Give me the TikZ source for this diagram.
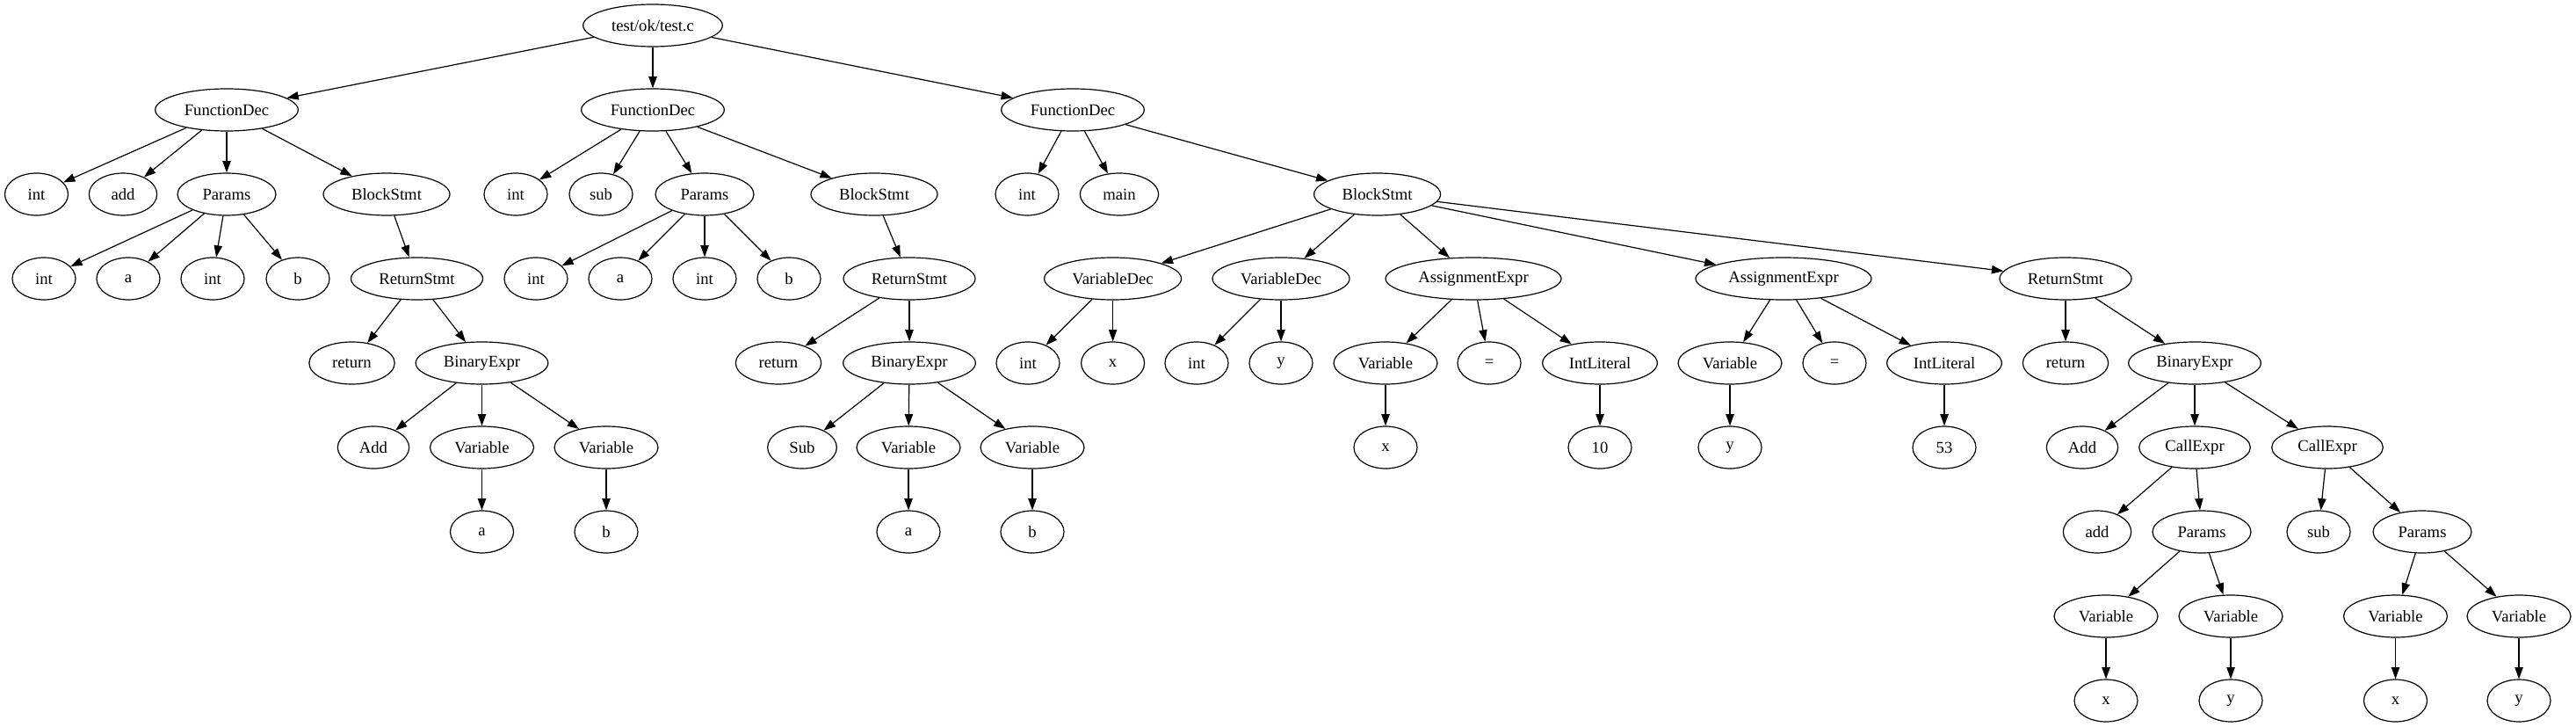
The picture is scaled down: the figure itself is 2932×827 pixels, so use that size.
\documentclass[tikz,border=0pt]{standalone}
\usepackage{fontspec}
\setmainfont{Liberation Serif}
\usetikzlibrary{shapes.geometric,arrows.meta}
\tikzset{
  nd/.style={draw, ellipse, line width=0.9pt, minimum height=36pt, minimum width=#1, inner sep=0pt, font=\fontsize{14}{16}\selectfont},
  nd/.default=54pt,
  ed/.style={-{Triangle[length=10pt,width=7pt]}, line width=0.9pt}
}
\begin{document}
\begin{tikzpicture}[x=0.75pt,y=-0.75pt]
\useasboundingbox (0,0) rectangle (2932,827);
% level 0
\node[nd=119pt] (r) at (743,29) {test/ok/test.c};
% level 1
\node[nd=122pt] (f1) at (258,125) {FunctionDec};
\node[nd=122pt] (f2) at (743,125) {FunctionDec};
\node[nd=122pt] (f3) at (1221,125) {FunctionDec};
% level 2
\node[nd] (f1i) at (41.5,221) {int};
\node[nd=58pt] (f1n) at (140,221) {add};
\node[nd=84pt] (f1p) at (258,221) {Params};
\node[nd=108pt] (f1b) at (440,221) {BlockStmt};
\node[nd] (f2i) at (587,221) {int};
\node[nd] (f2n) at (684,221) {sub};
\node[nd=84pt] (f2p) at (802,221) {Params};
\node[nd=108pt] (f2b) at (995,221) {BlockStmt};
\node[nd] (f3i) at (1169,221) {int};
\node[nd=67pt] (f3n) at (1274,221) {main};
\node[nd=108pt] (f3b) at (1567.6,221) {BlockStmt};
% level 3
\node[nd] (f1p1) at (50,317) {int};
\node[nd] (f1p2) at (146,317) {a};
\node[nd] (f1p3) at (242,317) {int};
\node[nd] (f1p4) at (339,317) {b};
\node[nd=112.5pt] (f1r) at (474.5,317) {ReturnStmt};
\node[nd] (f2p1) at (610,317) {int};
\node[nd] (f2p2) at (706,317) {a};
\node[nd] (f2p3) at (802,317) {int};
\node[nd] (f2p4) at (898,317) {b};
\node[nd=112.5pt] (f2r) at (1035,317) {ReturnStmt};
\node[nd=117pt] (vd1) at (1266.6,317) {VariableDec};
\node[nd=117pt] (vd2) at (1458,317) {VariableDec};
\node[nd=150pt] (as1) at (1677,317) {AssignmentExpr};
\node[nd=150pt] (as2) at (2030,317) {AssignmentExpr};
\node[nd=112.5pt] (f3r) at (2351,317) {ReturnStmt};
% level 4
\node[nd=73pt] (f1rr) at (400.5,413) {return};
\node[nd=113pt] (f1be) at (548.5,413) {BinaryExpr};
\node[nd=73pt] (f2rr) at (886,413) {return};
\node[nd=113pt] (f2be) at (1035,413) {BinaryExpr};
\node[nd] (vd1t) at (1170,413) {int};
\node[nd] (vd1n) at (1266.6,413) {x};
\node[nd] (vd2t) at (1362,413) {int};
\node[nd] (vd2n) at (1458,413) {y};
\node[nd=88.5pt] (as1v) at (1577,413) {Variable};
\node[nd] (as1e) at (1695,413) {=};
\node[nd=98pt] (as1l) at (1821,413) {IntLiteral};
\node[nd=88.5pt] (as2v) at (1969,413) {Variable};
\node[nd] (as2e) at (2088,413) {=};
\node[nd=98pt] (as2l) at (2213,413) {IntLiteral};
\node[nd=73pt] (f3rr) at (2351,413) {return};
\node[nd=113pt] (f3be) at (2498,413) {BinaryExpr};
% level 5
\node[nd=61pt] (f1op) at (425,509) {Add};
\node[nd=88.5pt] (f1v1) at (548.5,509) {Variable};
\node[nd=88.5pt] (f1v2) at (690,509) {Variable};
\node[nd=59pt] (f2op) at (913,509) {Sub};
\node[nd=88.5pt] (f2v1) at (1034,509) {Variable};
\node[nd=88.5pt] (f2v2) at (1175,509) {Variable};
\node[nd] (as1x) at (1577,509) {x};
\node[nd] (as1n) at (1821,509) {10};
\node[nd] (as2y) at (1969,509) {y};
\node[nd] (as2n) at (2213,509) {53};
\node[nd=61pt] (f3op) at (2370,509) {Add};
\node[nd=95pt] (c1) at (2498,509) {CallExpr};
\node[nd=95pt] (c2) at (2649,509) {CallExpr};
% level 6
\node[nd] (f1a) at (548.5,605) {a};
\node[nd] (f1bb) at (690,605) {b};
\node[nd] (f2a) at (1034,605) {a};
\node[nd] (f2bb) at (1175,605) {b};
\node[nd=58pt] (c1n) at (2387,605) {add};
\node[nd=84pt] (c1p) at (2506,605) {Params};
\node[nd] (c2n) at (2639,605) {sub};
\node[nd=84pt] (c2p) at (2757,605) {Params};
% level 7
\node[nd=88.5pt] (c1v1) at (2397,701) {Variable};
\node[nd=88.5pt] (c1v2) at (2539,701) {Variable};
\node[nd=88.5pt] (c2v1) at (2726.5,701) {Variable};
\node[nd=88.5pt] (c2v2) at (2867,701) {Variable};
% level 8
\node[nd] (c1x) at (2397,797) {x};
\node[nd] (c1y) at (2539,797) {y};
\node[nd] (c2x) at (2726.5,797) {x};
\node[nd] (c2y) at (2867,797) {y};
% edges
\foreach \a/\b in {r/f1,r/f2,r/f3,
  f1/f1i,f1/f1n,f1/f1p,f1/f1b,
  f2/f2i,f2/f2n,f2/f2p,f2/f2b,
  f3/f3i,f3/f3n,f3/f3b,
  f1p/f1p1,f1p/f1p2,f1p/f1p3,f1p/f1p4,f1b/f1r,
  f2p/f2p1,f2p/f2p2,f2p/f2p3,f2p/f2p4,f2b/f2r,
  f3b/vd1,f3b/vd2,f3b/as1,f3b/as2,f3b/f3r,
  f1r/f1rr,f1r/f1be,f2r/f2rr,f2r/f2be,
  vd1/vd1t,vd1/vd1n,vd2/vd2t,vd2/vd2n,
  as1/as1v,as1/as1e,as1/as1l,as2/as2v,as2/as2e,as2/as2l,
  f3r/f3rr,f3r/f3be,
  f1be/f1op,f1be/f1v1,f1be/f1v2,f2be/f2op,f2be/f2v1,f2be/f2v2,
  as1v/as1x,as1l/as1n,as2v/as2y,as2l/as2n,
  f3be/f3op,f3be/c1,f3be/c2,
  f1v1/f1a,f1v2/f1bb,f2v1/f2a,f2v2/f2bb,
  c1/c1n,c1/c1p,c2/c2n,c2/c2p,
  c1p/c1v1,c1p/c1v2,c2p/c2v1,c2p/c2v2,
  c1v1/c1x,c1v2/c1y,c2v1/c2x,c2v2/c2y}
  \draw[ed] (\a) -- (\b);
\end{tikzpicture}
\end{document}
